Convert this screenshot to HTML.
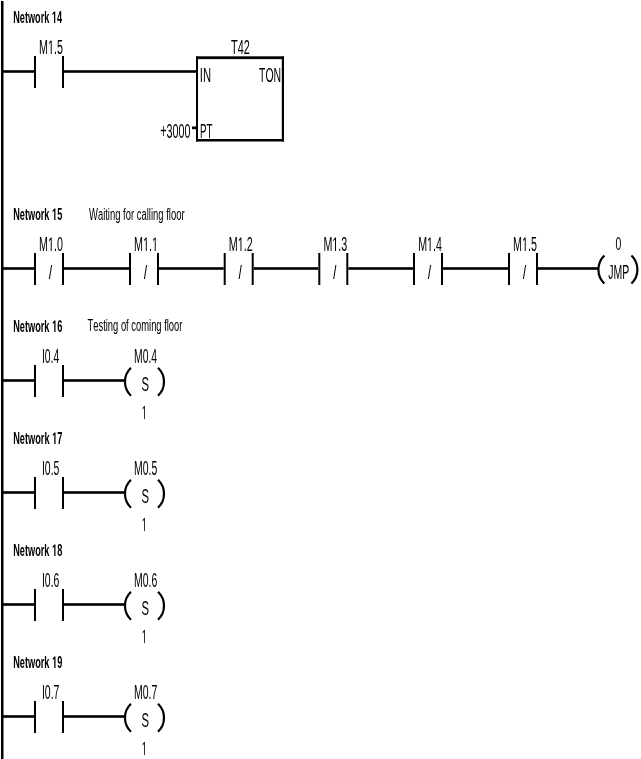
<!DOCTYPE html>
<html><head><meta charset="utf-8"><style>
html,body{margin:0;padding:0;background:#fff;width:641px;height:759px;overflow:hidden}
svg{display:block;will-change:transform}
text{font-family:"Liberation Sans",sans-serif;font-kerning:none}
</style></head><body>
<svg width="641" height="759" viewBox="0 0 641 759">
<rect width="641" height="759" fill="#fff"/>
<rect x="1.00" y="1.00" width="2.50" height="759.00"/>
<text transform="translate(13.19 22.90) scale(0.5576 1)" font-size="16.42" font-weight="bold" fill="#000" xml:space="preserve">Network </text>
<path transform="translate(51.86 22.90) scale(0.00447 -0.00802)" d="M478 0V1170L140 959V1180L493 1409H759V0Z"/>
<text transform="translate(56.96 22.90) scale(0.5576 1)" font-size="16.42" font-weight="bold" fill="#000" xml:space="preserve">4</text>
<rect x="3.00" y="70.20" width="31.00" height="2.60"/>
<rect x="34.00" y="56.00" width="2.00" height="32.00"/>
<rect x="62.00" y="56.00" width="2.00" height="32.00"/>
<text transform="translate(39.12 54.00) scale(0.5422 1)" font-size="19.77" font-weight="normal" fill="#000" xml:space="preserve">M</text>
<path transform="translate(48.05 54.00) scale(0.00523 -0.00965)" d="M515 0V1237L197 1010V1180L530 1409H696V0Z"/>
<text transform="translate(54.01 54.00) scale(0.5422 1)" font-size="19.77" font-weight="normal" fill="#000" xml:space="preserve">.5</text>
<rect x="64.00" y="70.20" width="133.00" height="2.60"/>
<rect x="196.00" y="56.50" width="2.00" height="85.00"/>
<rect x="281.80" y="56.50" width="2.20" height="85.00"/>
<rect x="196.00" y="56.30" width="88.00" height="2.80"/>
<rect x="196.00" y="139.00" width="88.00" height="2.50"/>
<text transform="translate(231.06 54.00) scale(0.5641 1)" font-size="19.33" font-weight="normal" fill="#000" xml:space="preserve">T42</text>
<text transform="translate(199.76 82.00) scale(0.5612 1)" font-size="20.06" font-weight="normal" fill="#000" xml:space="preserve">IN</text>
<text transform="translate(259.06 82.00) scale(0.5295 1)" font-size="19.76" font-weight="normal" fill="#000" xml:space="preserve">TON</text>
<text transform="translate(200.10 138.00) scale(0.4917 1)" font-size="19.77" font-weight="normal" fill="#000" xml:space="preserve">PT</text>
<text transform="translate(160.27 137.60) scale(0.5529 1)" font-size="19.48" font-weight="normal" fill="#000" xml:space="preserve">+3000</text>
<rect x="192.00" y="126.50" width="4.00" height="2.70"/>
<text transform="translate(13.18 219.90) scale(0.5600 1)" font-size="16.42" font-weight="bold" fill="#000" xml:space="preserve">Network </text>
<path transform="translate(52.03 219.90) scale(0.00449 -0.00802)" d="M478 0V1170L140 959V1180L493 1409H759V0Z"/>
<text transform="translate(57.14 219.90) scale(0.5600 1)" font-size="16.42" font-weight="bold" fill="#000" xml:space="preserve">5</text>
<text transform="translate(88.96 219.80) scale(0.5619 1)" font-size="16.84" font-weight="normal" fill="#000" xml:space="preserve">Waiting for calling floor</text>
<rect x="3.00" y="267.20" width="31.00" height="2.60"/>
<rect x="34.00" y="253.00" width="2.00" height="32.00"/>
<rect x="62.00" y="253.00" width="2.00" height="32.00"/>
<line x1="49.40" y1="279.00" x2="51.60" y2="265.00" stroke="#000" stroke-width="1.0"/>
<text transform="translate(39.12 251.00) scale(0.5495 1)" font-size="19.48" font-weight="normal" fill="#000" xml:space="preserve">M</text>
<path transform="translate(48.04 251.00) scale(0.00523 -0.00951)" d="M515 0V1237L197 1010V1180L530 1409H696V0Z"/>
<text transform="translate(53.99 251.00) scale(0.5495 1)" font-size="19.48" font-weight="normal" fill="#000" xml:space="preserve">.0</text>
<rect x="64.00" y="267.20" width="65.00" height="2.60"/>
<rect x="129.00" y="253.00" width="2.00" height="32.00"/>
<rect x="157.00" y="253.00" width="2.00" height="32.00"/>
<line x1="144.40" y1="279.00" x2="146.60" y2="265.00" stroke="#000" stroke-width="1.0"/>
<text transform="translate(134.12 251.00) scale(0.5440 1)" font-size="19.77" font-weight="normal" fill="#000" xml:space="preserve">M</text>
<path transform="translate(143.08 251.00) scale(0.00525 -0.00965)" d="M515 0V1237L197 1010V1180L530 1409H696V0Z"/>
<text transform="translate(149.06 251.00) scale(0.5440 1)" font-size="19.77" font-weight="normal" fill="#000" xml:space="preserve">.</text>
<path transform="translate(152.04 251.00) scale(0.00525 -0.00965)" d="M515 0V1237L197 1010V1180L530 1409H696V0Z"/>
<rect x="159.00" y="267.20" width="64.70" height="2.60"/>
<rect x="223.70" y="253.00" width="2.00" height="32.00"/>
<rect x="251.70" y="253.00" width="2.00" height="32.00"/>
<line x1="239.10" y1="279.00" x2="241.30" y2="265.00" stroke="#000" stroke-width="1.0"/>
<text transform="translate(228.82 251.00) scale(0.5525 1)" font-size="19.48" font-weight="normal" fill="#000" xml:space="preserve">M</text>
<path transform="translate(237.78 251.00) scale(0.00525 -0.00951)" d="M515 0V1237L197 1010V1180L530 1409H696V0Z"/>
<text transform="translate(243.77 251.00) scale(0.5525 1)" font-size="19.48" font-weight="normal" fill="#000" xml:space="preserve">.2</text>
<rect x="253.70" y="267.20" width="64.60" height="2.60"/>
<rect x="318.30" y="253.00" width="2.00" height="32.00"/>
<rect x="346.30" y="253.00" width="2.00" height="32.00"/>
<line x1="333.70" y1="279.00" x2="335.90" y2="265.00" stroke="#000" stroke-width="1.0"/>
<text transform="translate(323.42 251.00) scale(0.5508 1)" font-size="19.48" font-weight="normal" fill="#000" xml:space="preserve">M</text>
<path transform="translate(332.36 251.00) scale(0.00524 -0.00951)" d="M515 0V1237L197 1010V1180L530 1409H696V0Z"/>
<text transform="translate(338.32 251.00) scale(0.5508 1)" font-size="19.48" font-weight="normal" fill="#000" xml:space="preserve">.3</text>
<rect x="348.30" y="267.20" width="64.70" height="2.60"/>
<rect x="413.00" y="253.00" width="2.00" height="32.00"/>
<rect x="441.00" y="253.00" width="2.00" height="32.00"/>
<line x1="428.40" y1="279.00" x2="430.60" y2="265.00" stroke="#000" stroke-width="1.0"/>
<text transform="translate(418.13 251.00) scale(0.5390 1)" font-size="19.77" font-weight="normal" fill="#000" xml:space="preserve">M</text>
<path transform="translate(427.00 251.00) scale(0.00520 -0.00965)" d="M515 0V1237L197 1010V1180L530 1409H696V0Z"/>
<text transform="translate(432.93 251.00) scale(0.5390 1)" font-size="19.77" font-weight="normal" fill="#000" xml:space="preserve">.4</text>
<rect x="443.00" y="267.20" width="65.00" height="2.60"/>
<rect x="508.00" y="253.00" width="2.00" height="32.00"/>
<rect x="536.00" y="253.00" width="2.00" height="32.00"/>
<line x1="523.40" y1="279.00" x2="525.60" y2="265.00" stroke="#000" stroke-width="1.0"/>
<text transform="translate(513.12 251.00) scale(0.5422 1)" font-size="19.77" font-weight="normal" fill="#000" xml:space="preserve">M</text>
<path transform="translate(522.05 251.00) scale(0.00523 -0.00965)" d="M515 0V1237L197 1010V1180L530 1409H696V0Z"/>
<text transform="translate(528.01 251.00) scale(0.5422 1)" font-size="19.77" font-weight="normal" fill="#000" xml:space="preserve">.5</text>
<rect x="538.00" y="267.20" width="61.00" height="2.60"/>
<path d="M604.35 255.47 A19.5 19.5 0 0 0 604.35 283.53" fill="none" stroke="#000" stroke-width="2.2"/>
<path d="M631.45 255.47 A19.5 19.5 0 0 1 631.45 283.53" fill="none" stroke="#000" stroke-width="2.2"/>
<text transform="translate(615.59 250.40) scale(0.5618 1)" font-size="18.62" font-weight="normal" fill="#000" xml:space="preserve">0</text>
<text transform="translate(608.24 278.60) scale(0.5278 1)" font-size="19.91" font-weight="normal" fill="#000" xml:space="preserve">JMP</text>
<text transform="translate(13.18 331.90) scale(0.5609 1)" font-size="16.42" font-weight="bold" fill="#000" xml:space="preserve">Network </text>
<path transform="translate(52.09 331.90) scale(0.00450 -0.00802)" d="M478 0V1170L140 959V1180L493 1409H759V0Z"/>
<text transform="translate(57.21 331.90) scale(0.5609 1)" font-size="16.42" font-weight="bold" fill="#000" xml:space="preserve">6</text>
<text transform="translate(87.49 330.90) scale(0.5871 1)" font-size="16.01" font-weight="normal" fill="#000" xml:space="preserve">Testing of coming floor</text>
<rect x="3.00" y="379.20" width="31.00" height="2.60"/>
<rect x="34.00" y="365.00" width="2.00" height="32.00"/>
<rect x="62.00" y="365.00" width="2.00" height="32.00"/>
<text transform="translate(41.95 362.80) scale(0.5235 1)" font-size="19.76" font-weight="normal" fill="#000" xml:space="preserve">I0.4</text>
<rect x="64.00" y="379.20" width="62.00" height="2.60"/>
<path d="M130.95 367.77 A19.5 19.5 0 0 0 130.95 395.83" fill="none" stroke="#000" stroke-width="2.2"/>
<path d="M158.05 367.77 A19.5 19.5 0 0 1 158.05 395.83" fill="none" stroke="#000" stroke-width="2.2"/>
<text transform="translate(134.05 363.00) scale(0.5364 1)" font-size="19.33" font-weight="normal" fill="#000" xml:space="preserve">M0.4</text>
<text transform="translate(141.39 390.70) scale(0.5755 1)" font-size="19.62" font-weight="normal" fill="#000" xml:space="preserve">S</text>
<path transform="translate(141.81 419.00) scale(0.00442 -0.00923)" d="M515 0V1237L197 1010V1180L530 1409H696V0Z"/>
<text transform="translate(13.18 443.90) scale(0.5618 1)" font-size="16.42" font-weight="bold" fill="#000" xml:space="preserve">Network </text>
<path transform="translate(52.14 443.90) scale(0.00450 -0.00802)" d="M478 0V1170L140 959V1180L493 1409H759V0Z"/>
<text transform="translate(57.27 443.90) scale(0.5618 1)" font-size="16.42" font-weight="bold" fill="#000" xml:space="preserve">7</text>
<rect x="3.00" y="491.20" width="31.00" height="2.60"/>
<rect x="34.00" y="477.00" width="2.00" height="32.00"/>
<rect x="62.00" y="477.00" width="2.00" height="32.00"/>
<text transform="translate(41.94 474.80) scale(0.5278 1)" font-size="19.76" font-weight="normal" fill="#000" xml:space="preserve">I0.5</text>
<rect x="64.00" y="491.20" width="62.00" height="2.60"/>
<path d="M130.95 479.77 A19.5 19.5 0 0 0 130.95 507.83" fill="none" stroke="#000" stroke-width="2.2"/>
<path d="M158.05 479.77 A19.5 19.5 0 0 1 158.05 507.83" fill="none" stroke="#000" stroke-width="2.2"/>
<text transform="translate(134.04 475.00) scale(0.5396 1)" font-size="19.33" font-weight="normal" fill="#000" xml:space="preserve">M0.5</text>
<text transform="translate(141.39 502.70) scale(0.5755 1)" font-size="19.62" font-weight="normal" fill="#000" xml:space="preserve">S</text>
<path transform="translate(141.81 531.00) scale(0.00442 -0.00923)" d="M515 0V1237L197 1010V1180L530 1409H696V0Z"/>
<text transform="translate(13.18 555.90) scale(0.5603 1)" font-size="16.42" font-weight="bold" fill="#000" xml:space="preserve">Network </text>
<path transform="translate(52.05 555.90) scale(0.00449 -0.00802)" d="M478 0V1170L140 959V1180L493 1409H759V0Z"/>
<text transform="translate(57.17 555.90) scale(0.5603 1)" font-size="16.42" font-weight="bold" fill="#000" xml:space="preserve">8</text>
<rect x="3.00" y="603.20" width="31.00" height="2.60"/>
<rect x="34.00" y="589.00" width="2.00" height="32.00"/>
<rect x="62.00" y="589.00" width="2.00" height="32.00"/>
<text transform="translate(41.94 586.80) scale(0.5285 1)" font-size="19.76" font-weight="normal" fill="#000" xml:space="preserve">I0.6</text>
<rect x="64.00" y="603.20" width="62.00" height="2.60"/>
<path d="M130.95 591.77 A19.5 19.5 0 0 0 130.95 619.83" fill="none" stroke="#000" stroke-width="2.2"/>
<path d="M158.05 591.77 A19.5 19.5 0 0 1 158.05 619.83" fill="none" stroke="#000" stroke-width="2.2"/>
<text transform="translate(134.04 587.00) scale(0.5401 1)" font-size="19.33" font-weight="normal" fill="#000" xml:space="preserve">M0.6</text>
<text transform="translate(141.39 614.70) scale(0.5755 1)" font-size="19.62" font-weight="normal" fill="#000" xml:space="preserve">S</text>
<path transform="translate(141.81 643.00) scale(0.00442 -0.00923)" d="M515 0V1237L197 1010V1180L530 1409H696V0Z"/>
<text transform="translate(13.18 667.90) scale(0.5610 1)" font-size="16.42" font-weight="bold" fill="#000" xml:space="preserve">Network </text>
<path transform="translate(52.09 667.90) scale(0.00450 -0.00802)" d="M478 0V1170L140 959V1180L493 1409H759V0Z"/>
<text transform="translate(57.22 667.90) scale(0.5610 1)" font-size="16.42" font-weight="bold" fill="#000" xml:space="preserve">9</text>
<rect x="3.00" y="715.20" width="31.00" height="2.60"/>
<rect x="34.00" y="701.00" width="2.00" height="32.00"/>
<rect x="62.00" y="701.00" width="2.00" height="32.00"/>
<text transform="translate(41.93 698.80) scale(0.5307 1)" font-size="19.76" font-weight="normal" fill="#000" xml:space="preserve">I0.7</text>
<rect x="64.00" y="715.20" width="62.00" height="2.60"/>
<path d="M130.95 703.77 A19.5 19.5 0 0 0 130.95 731.83" fill="none" stroke="#000" stroke-width="2.2"/>
<path d="M158.05 703.77 A19.5 19.5 0 0 1 158.05 731.83" fill="none" stroke="#000" stroke-width="2.2"/>
<text transform="translate(134.04 699.00) scale(0.5418 1)" font-size="19.33" font-weight="normal" fill="#000" xml:space="preserve">M0.7</text>
<text transform="translate(141.39 726.70) scale(0.5755 1)" font-size="19.62" font-weight="normal" fill="#000" xml:space="preserve">S</text>
<path transform="translate(141.81 755.00) scale(0.00442 -0.00923)" d="M515 0V1237L197 1010V1180L530 1409H696V0Z"/>
</svg>
</body></html>
